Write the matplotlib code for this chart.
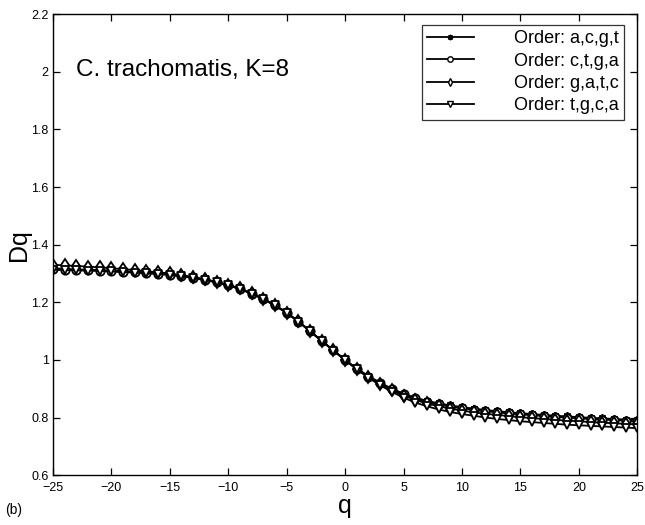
import matplotlib
matplotlib.use("Agg")
import matplotlib.pyplot as plt
import numpy as np

plt.rcParams['font.family'] = ['Liberation Sans', 'DejaVu Sans']

q = list(range(-25, 26))

dq_acgt = [1.318,1.316,1.314,1.313,1.312,1.310,1.308,1.306,1.303,1.300,1.297,1.292,1.286,1.279,1.270,1.260,1.247,1.231,1.212,1.190,1.164,1.134,1.100,1.066,1.033,1.000,0.970,0.944,0.921,0.900,0.883,0.869,0.858,0.849,0.842,0.836,0.831,0.826,0.822,0.818,0.815,0.812,0.809,0.806,0.804,0.801,0.799,0.797,0.795,0.793,0.791]
dq_ctga = [1.315,1.313,1.312,1.311,1.310,1.308,1.306,1.304,1.302,1.299,1.296,1.291,1.285,1.278,1.270,1.259,1.246,1.230,1.211,1.189,1.163,1.133,1.099,1.066,1.033,1.000,0.969,0.942,0.919,0.898,0.880,0.866,0.855,0.846,0.838,0.832,0.827,0.822,0.818,0.814,0.811,0.808,0.805,0.802,0.800,0.797,0.795,0.793,0.791,0.789,0.787]
dq_gatc = [1.330,1.328,1.326,1.324,1.321,1.318,1.315,1.312,1.308,1.304,1.300,1.294,1.288,1.280,1.271,1.261,1.248,1.231,1.212,1.190,1.164,1.134,1.100,1.066,1.033,1.000,0.968,0.940,0.916,0.894,0.876,0.861,0.849,0.839,0.831,0.824,0.818,0.813,0.809,0.805,0.801,0.798,0.795,0.792,0.789,0.787,0.784,0.782,0.780,0.778,0.776]
dq_tgca = [1.313,1.312,1.311,1.310,1.309,1.307,1.305,1.303,1.301,1.298,1.295,1.290,1.284,1.277,1.269,1.259,1.246,1.230,1.211,1.189,1.163,1.133,1.100,1.066,1.032,0.999,0.967,0.938,0.912,0.889,0.869,0.852,0.839,0.828,0.819,0.812,0.806,0.800,0.795,0.791,0.787,0.784,0.781,0.778,0.775,0.773,0.771,0.769,0.767,0.765,0.763]

labels = ["Order: a,c,g,t", "Order: c,t,g,a", "Order: g,a,t,c", "Order: t,g,c,a"]
xticks = [-25, -20, -15, -10, -5, 0, 5, 10, 15, 20, 25]
yticks = [0.6, 0.8, 1.0, 1.2, 1.4, 1.6, 1.8, 2.0, 2.2]
yticklabels = ["0.6", "0.8", "1", "1.2", "1.4", "1.6", "1.8", "2", "2.2"]

fig = plt.figure(figsize=(6.45, 5.25), dpi=100)
ax = fig.add_axes([0.082, 0.095, 0.906, 0.878])

series = [dq_acgt, dq_ctga, dq_gatc, dq_tgca]
markers = [(8, 2, 0), 'o', 'd', 'v']
for ys, m, lab in zip(series, markers, labels):
    ax.plot(q, ys, color='black', lw=1.3, marker=m, markersize=6,
            markerfacecolor='white' if m != (8, 2, 0) else 'black',
            markeredgecolor='black', markeredgewidth=1.3, label=lab)

ax.set_xlim(-25, 25)
ax.set_ylim(0.6, 2.2)
ax.set_xticks(xticks)
ax.set_xticklabels([str(v).replace('-', '\u2212') for v in xticks])
ax.set_yticks(yticks)
ax.set_yticklabels(yticklabels)
ax.tick_params(direction='in', top=True, right=True, length=5, width=0.9, labelsize=9)
ax.tick_params(axis='x', pad=5)
ax.tick_params(axis='y', pad=3)
for s in ax.spines.values():
    s.set_linewidth(1.0)

ax.set_xlabel('q', fontsize=18, labelpad=0)
ax.set_ylabel('Dq', fontsize=18, labelpad=0)

ax.text(0.040, 0.878, 'C. trachomatis, K=8', transform=ax.transAxes, fontsize=17.5, va='center', ha='left')
fig.text(0.008, 0.028, '(b)', fontsize=10, va='center', ha='left')

leg = ax.legend(loc='upper right', bbox_to_anchor=(0.977, 0.977), fontsize=13, frameon=True,
                fancybox=False, edgecolor='black', handlelength=2.6, borderpad=0.3,
                labelspacing=0.3, handletextpad=2.2, borderaxespad=0.0, markerscale=0.65)
leg.get_frame().set_linewidth(0.9)
for ln in leg.get_lines():
    ln.set_markeredgewidth(1.0)

fig.savefig('out.png', dpi=100)
